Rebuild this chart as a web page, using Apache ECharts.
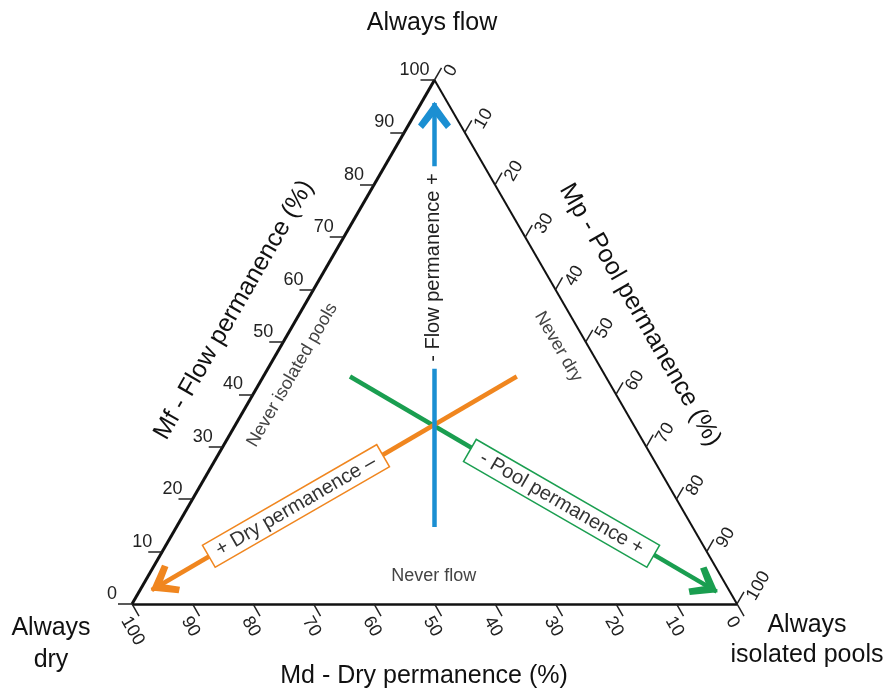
<!DOCTYPE html>
<html><head><meta charset="utf-8">
<script src="https://cdn.jsdelivr.net/npm/echarts@6/dist/echarts.min.js"></script>
<style>html,body{margin:0;padding:0;background:#fff}#c{width:888px;height:691px}</style>
</head><body><div id="c"></div>
<script>
// ---------- data (ternary compositions are [Mf, Mp, Md] in %) ----------
const tickValues = [0, 10, 20, 30, 40, 50, 60, 70, 80, 90, 100];
const flowArrow = [[14.7, 42.65, 42.65], [95.6, 2.2, 2.2]];     // start -> tip
const dryArrow  = [[43.4, 41.9, 14.7], [2.67, 1.93, 95.4]];
const poolArrow = [[43.4, 14.33, 42.27], [2.35, 95.47, 2.18]];
const regionLabels = ['Never isolated pools', 'Never dry', 'Never flow'];
const regionPositions = [[43.7, 4.65, 51.65], [49.1, 45.9, 5.0], [5.35, 47.2, 47.45]];
const arrowLabels = ['- Flow permanence +', '+ Dry permanence \u2013', '- Pool permanence +'];
const arrowLabelPositions = [[64.2, 17.8, 18.0], [18.7, 17.75, 63.55], [19.2, 61.4, 19.4]];
const axisTitles = ['Mf - Flow permanence (%)', 'Mp - Pool permanence (%)', 'Md - Dry permanence (%)'];
const cornerLabels = ['Always flow', 'Always\ndry', 'Always\nisolated pools'];

// ---------- helpers ----------
const SQ = Math.sqrt(3) / 2;
function tern(p) {
  const s = p[0] + p[1] + p[2];
  return [(p[1] + p[0] / 2) / s * 100, p[0] * SQ / s * 100];
}
const GRID = { left: 132, top: 80, width: 605 };
const K = GRID.width / 100;
function shift(pt, dx, dy) { return [pt[0] + dx / K, pt[1] - dy / K]; }
const edgeLeft = v => tern([v, 0, 100 - v]);
const edgeRight = v => tern([100 - v, v, 0]);
const edgeBottom = v => tern([0, 100 - v, v]);

const FONT = '"Liberation Sans", Arial, sans-serif';
const BLUE = '#1b8fd2', ORANGE = '#f0861f', GREEN = '#1a9e50';
const CHEVRON = 'path://M-26,-26L-26,-26.01M26,26L26,26.01M0,-1L16.5,22L11.5,26.5L0,12L-11.5,26.5L-16.5,22Z';

const TOP = tern([100, 0, 0]), BL = tern([0, 0, 100]), BR = tern([0, 100, 0]);

const tickLines = [];
tickValues.forEach(v => {
  const a = edgeLeft(v); tickLines.push({ coords: [a, shift(a, -14, 0)] });
  const b = edgeRight(v); tickLines.push({ coords: [b, shift(b, 7, -12.1)] });
  const c = edgeBottom(v); tickLines.push({ coords: [c, shift(c, 7, 12.1)] });
});

function textSeries(items, z) {
  return {
    type: 'scatter', symbolSize: 1, itemStyle: { color: 'rgba(0,0,0,0)', opacity: 1 },
    silent: true, z: z, clip: false, emphasis: { disabled: true }, animation: false,
    data: items,
    label: { show: true, position: 'inside', formatter: '{b}', fontFamily: FONT, opacity: 1 }
  };
}
const leftTickLabels = tickValues.map(v => ({
  name: String(v), value: shift(edgeLeft(v), -20, -10),
  label: { fontSize: 18, color: '#222', align: 'center', verticalAlign: 'middle' }
}));
const rightTickLabels = tickValues.map(v => ({
  name: String(v), value: shift(edgeRight(v), 14, -5),
  label: { fontSize: 18, color: '#222', align: 'left', verticalAlign: 'middle', rotate: 60 }
}));
const bottomTickLabels = tickValues.map(v => ({
  name: String(v), value: shift(edgeBottom(v), -7, 14),
  label: { fontSize: 18, color: '#222', align: 'left', verticalAlign: 'middle', rotate: -60 }
}));
const regionRot = [60, -60, 0];
const regionItems = regionLabels.map((t, i) => ({
  name: t, value: tern(regionPositions[i]),
  label: { fontSize: 18, color: '#444', align: 'center', verticalAlign: 'middle', rotate: regionRot[i] }
}));
const arrowItems = [
  { name: arrowLabels[0], value: tern(arrowLabelPositions[0]),
    label: { fontSize: 20, color: '#222', rotate: 90, backgroundColor: '#fff', padding: [2, 7] } },
  { name: arrowLabels[1], value: tern(arrowLabelPositions[1]),
    label: { fontSize: 20, color: '#333', rotate: 30, backgroundColor: '#fff', borderColor: ORANGE, borderWidth: 1.5, padding: [2, 9] } },
  { name: arrowLabels[2], value: tern(arrowLabelPositions[2]),
    label: { fontSize: 20, color: '#333', rotate: -30, backgroundColor: '#fff', borderColor: GREEN, borderWidth: 1.5, padding: [2, 12] } }
];

function arrowSeries(path, color, z) {
  return {
    type: 'lines', coordinateSystem: 'cartesian2d', silent: true, z: z, clip: false, animation: false,
    symbol: ['none', CHEVRON], symbolSize: 52,
    lineStyle: { color: color, width: 4.5, opacity: 1 }, itemStyle: { color: color },
    data: [{ coords: path.map(tern) }]
  };
}

const chart = echarts.init(document.getElementById('c'), null, { renderer: 'canvas' });
chart.setOption({
  animation: false,
  backgroundColor: '#fff',
  grid: { left: GRID.left, top: GRID.top, width: GRID.width, height: GRID.width * SQ },
  xAxis: { type: 'value', min: 0, max: 100, show: false },
  yAxis: { type: 'value', min: 0, max: 100 * SQ, show: false },
  series: [
    { type: 'lines', coordinateSystem: 'cartesian2d', silent: true, z: 4, clip: false, animation: false,
      data: [
        { coords: [BL, TOP], lineStyle: { width: 3 } },
        { coords: [TOP, BR], lineStyle: { width: 2 } },
        { coords: [BL, BR], lineStyle: { width: 2.5 } }
      ],
      lineStyle: { color: '#111', opacity: 1 } },
    { type: 'lines', coordinateSystem: 'cartesian2d', silent: true, z: 4, clip: false, animation: false,
      data: tickLines, lineStyle: { color: '#222', width: 1.5, opacity: 1 } },
    arrowSeries(poolArrow, GREEN, 5),
    arrowSeries(dryArrow, ORANGE, 6),
    arrowSeries(flowArrow, BLUE, 7),
    textSeries(arrowItems, 10),
    textSeries(regionItems, 10),
    textSeries(leftTickLabels, 10),
    textSeries(rightTickLabels, 10),
    textSeries(bottomTickLabels, 10)
  ],
  graphic: [
    { type: 'text', x: 432, y: 23, style: { text: cornerLabels[0], font: '25px ' + FONT, fill: '#111', align: 'center', verticalAlign: 'middle' } },
    { type: 'text', x: 51, y: 644, style: { text: cornerLabels[1], font: '25px ' + FONT, fill: '#111', align: 'center', verticalAlign: 'middle', lineHeight: 32 } },
    { type: 'text', x: 807, y: 640, style: { text: cornerLabels[2], font: '25px ' + FONT, fill: '#111', align: 'center', verticalAlign: 'middle', lineHeight: 30 } },
    { type: 'text', x: 234, y: 310, rotation: Math.PI / 3, style: { text: axisTitles[0], font: '25px ' + FONT, fill: '#111', align: 'center', verticalAlign: 'middle' } },
    { type: 'text', x: 640, y: 315, rotation: -Math.PI / 3, style: { text: axisTitles[1], font: '25px ' + FONT, fill: '#111', align: 'center', verticalAlign: 'middle' } },
    { type: 'text', x: 424, y: 676, style: { text: axisTitles[2], font: '25px ' + FONT, fill: '#111', align: 'center', verticalAlign: 'middle' } }
  ]
});
</script></body></html>
